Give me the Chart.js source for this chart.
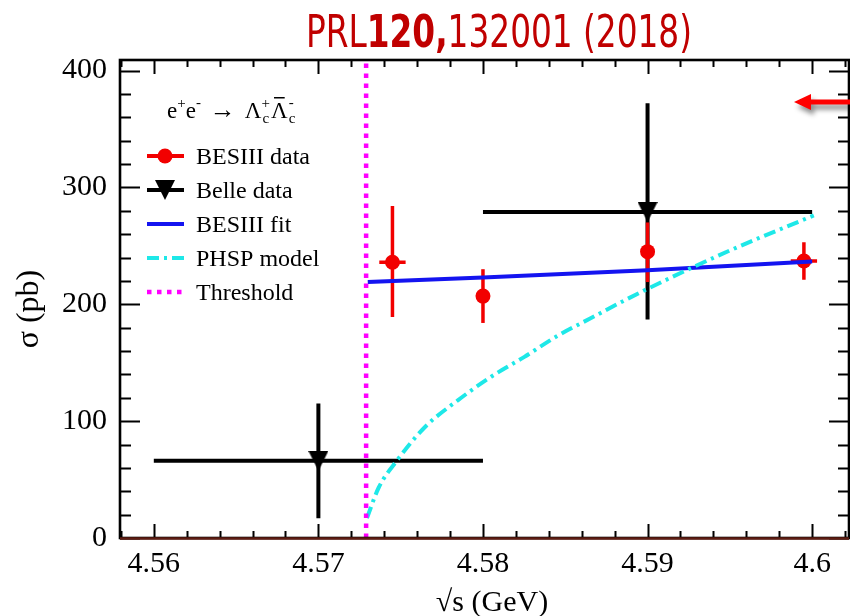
<!DOCTYPE html>
<html>
<head>
<meta charset="utf-8">
<script src="https://cdn.jsdelivr.net/npm/chart.js@4.4.1/dist/chart.umd.min.js"></script>
<style>
  html, body { margin: 0; padding: 0; background: #fff; overflow: hidden; }
  #wrap { width: 850px; height: 616px; overflow: hidden; position: relative; }
  canvas { display: block; }
</style>
</head>
<body>
<div id="wrap"><canvas id="c" width="860" height="616"></canvas></div>
<script>
// ---- BESIII measurements: sqrt(s) in GeV, cross section in pb ----
const besEnergy    = [4.5745, 4.5800, 4.5900, 4.5995];
const besSigma     = [236, 207, 245, 237];
const besErrUp     = [48, 23, 25, 16];
const besErrDown   = [47, 23, 26, 16];
const besEnergyErr = [0.0008, 0, 0, 0.0008];

// ---- Belle measurements (20 MeV bins) ----
const belleEnergy   = [4.57, 4.59];
const belleSigma    = [66, 279];
const belleErrUp    = [49, 93];
const belleErrDown  = [49, 92];
const belleBinHalf  = [0.01, 0.01];

// ---- BESIII fit curve ----
const fitEnergy = [4.5730, 4.5800, 4.5900, 4.6000];
const fitSigma  = [219, 223, 229, 236.5];

// ---- phase-space model curve ----
const phspEnergy = [4.57295, 4.57366, 4.57476, 4.57648, 4.57849, 4.58050, 4.58252,
                    4.58453, 4.58654, 4.58856, 4.58997, 4.59500, 4.60010];
const phspSigma  = [17, 43, 66, 95, 118, 138, 155, 173, 188, 203, 213, 246, 276];

// ---- production threshold (2 m_Lambda_c) ----
const thresholdEnergy = [4.5729, 4.5729];
const thresholdSigma  = [0, 409];

// ---- axes ----
const xTickValues = [4.56, 4.57, 4.58, 4.59, 4.60];
const xTickLabels = ['4.56', '4.57', '4.58', '4.59', '4.6'];
const yTickValues = [0, 100, 200, 300, 400];
const yTickLabels = ['0', '100', '200', '300', '400'];
const xRange = [4.557946, 4.60224];
const yRange = [0, 409];

const SERIF = '"Liberation Serif", "Times New Roman", serif';
const COLORS = {
  bes: '#f20000', belle: '#000000', fit: '#1414f0',
  phsp: 'rgb(30,232,232)', thr: '#ff00ff', title: '#c00000'
};

const pts = (xs, ys) => xs.map((x, i) => ({ x: x, y: ys[i] }));

// Downward triangle marker for Belle points, centred on its box
function makeDownTriangle(size, color) {
  const cv = document.createElement('canvas');
  cv.width = size; cv.height = size;
  const g = cv.getContext('2d');
  g.fillStyle = color;
  g.beginPath();
  g.moveTo(0, 0); g.lineTo(size, 0); g.lineTo(size / 2, size); g.closePath();
  g.fill();
  return cv;
}
const belleMarker = makeDownTriangle(20, COLORS.belle);

// Error bars drawn right before the owning dataset's markers
const errorBarPlugin = {
  id: 'errorBars',
  beforeDatasetDraw(chart, args) {
    const ds = chart.data.datasets[args.index];
    if (!ds.errorBars) return;
    const eb = ds.errorBars;
    const { ctx, scales: { x, y } } = chart;
    ctx.save();
    ctx.strokeStyle = eb.color;
    ctx.lineWidth = eb.width;
    ctx.lineCap = 'butt';
    ds.data.forEach((p, i) => {
      const px = x.getPixelForValue(p.x);
      const py = y.getPixelForValue(p.y);
      ctx.beginPath();
      ctx.moveTo(px, y.getPixelForValue(p.y + eb.up[i]));
      ctx.lineTo(px, y.getPixelForValue(p.y - eb.down[i]));
      if (eb.xHalf[i] > 0) {
        ctx.moveTo(x.getPixelForValue(p.x - eb.xHalf[i]), py);
        ctx.lineTo(x.getPixelForValue(p.x + eb.xHalf[i]), py);
      }
      ctx.stroke();
    });
    ctx.restore();
  }
};

// Frame with inward ticks on all four sides
const framePlugin = {
  id: 'frame',
  afterDatasetsDraw(chart) {
    const { ctx, chartArea: a, scales: { x, y } } = chart;
    ctx.save();
    ctx.strokeStyle = '#000';
    ctx.lineWidth = 2;
    ctx.beginPath();
    const i0 = Math.ceil(x.min / 0.002 - 1e-6), i1 = Math.floor(x.max / 0.002 + 1e-6);
    for (let i = i0; i <= i1; i++) {
      const px = Math.round(x.getPixelForValue(i * 0.002)) + 0.5;
      const len = (i % 5 === 0) ? 14 : 7;
      ctx.moveTo(px, a.bottom); ctx.lineTo(px, a.bottom - len);
      ctx.moveTo(px, a.top); ctx.lineTo(px, a.top + len);
    }
    for (let j = 0; j * 20 <= y.max; j++) {
      const py = Math.round(y.getPixelForValue(j * 20)) + 0.5;
      const len = (j % 5 === 0) ? 20 : 11;
      ctx.moveTo(a.left, py); ctx.lineTo(a.left + len, py);
      ctx.moveTo(a.right, py); ctx.lineTo(a.right - len, py);
    }
    ctx.stroke();
    ctx.lineWidth = 2.6;
    ctx.strokeRect(a.left, a.top, a.right - a.left, a.bottom - a.top);
    // baseline at zero
    ctx.strokeStyle = '#5e1c12';
    ctx.lineWidth = 2.4;
    ctx.beginPath();
    ctx.moveTo(a.left, a.bottom + 0.5); ctx.lineTo(a.right, a.bottom + 0.5);
    ctx.stroke();
    ctx.restore();
  }
};

function drawReaction(ctx, x, base) {
  const big = '23px ' + SERIF, small = '15px ' + SERIF;
  ctx.fillStyle = '#000';
  ctx.textAlign = 'left';
  ctx.textBaseline = 'alphabetic';
  const put = (t, f, dy) => { ctx.font = f; ctx.fillText(t, x, base + dy); return ctx.measureText(t).width; };
  x += put('e', big, 0);
  x += put('+', small, -10);
  x += put('e', big, 0);
  x += put('-', small, -11) + 9;
  ctx.font = '26px ' + SERIF;
  ctx.fillText('\u2192', x, base); x += ctx.measureText('\u2192').width + 9;
  x += put('\u039B', big, 0);
  ctx.font = small;
  ctx.fillText('+', x, base - 10);
  ctx.fillText('c', x + 1, base + 5);
  x += ctx.measureText('+').width + 1;
  const lw = (ctx.font = big, ctx.measureText('\u039B').width);
  ctx.fillText('\u039B', x, base);
  ctx.fillRect(x + 3, base - 21, lw - 6, 1.5);
  x += lw;
  ctx.font = small;
  ctx.fillText('-', x + 1, base - 11);
  ctx.fillText('c', x + 1, base + 5);
}

function legendSymbol(ctx, ds, cx, cy) {
  const x0 = cx - 18, x1 = cx + 19;
  ctx.save();
  ctx.strokeStyle = ds.legendColor;
  ctx.lineWidth = ds.legendWidth;
  ctx.setLineDash(ds.borderDash || []);
  ctx.beginPath();
  ctx.moveTo(x0, cy); ctx.lineTo(x1, cy);
  ctx.stroke();
  ctx.setLineDash([]);
  if (ds.legendMarker === 'circle') {
    ctx.fillStyle = ds.legendColor;
    ctx.beginPath(); ctx.arc(cx, cy, 7.5, 0, Math.PI * 2); ctx.fill();
  } else if (ds.legendMarker === 'tri') {
    ctx.drawImage(belleMarker, cx - 10, cy - 10);
  }
  ctx.restore();
}

const decorPlugin = {
  id: 'decor',
  afterDraw(chart) {
    const { ctx } = chart;
    ctx.save();

    // heading, set in a condensed face squeezed to the journal-reference width
    const parts = [
      ['PRL', 'normal'], ['120,', 'bold'], ['132001 (2018)', 'normal']
    ];
    const fam = '"Liberation Sans Narrow", "DejaVu Sans Condensed", "Liberation Sans", sans-serif';
    let w = 0;
    parts.forEach(p => { ctx.font = p[1] + ' 45px ' + fam; w += ctx.measureText(p[0]).width; });
    const targetW = 386;
    ctx.save();
    ctx.translate(499 - targetW / 2, 47);
    ctx.scale(targetW / w, 1);
    ctx.fillStyle = COLORS.title;
    ctx.textBaseline = 'alphabetic';
    ctx.textAlign = 'left';
    let tx = 0;
    parts.forEach(p => {
      ctx.font = p[1] + ' 45px ' + fam;
      ctx.fillText(p[0], tx, 0);
      tx += ctx.measureText(p[0]).width;
    });
    ctx.restore();

    // axis titles
    ctx.fillStyle = '#000';
    ctx.font = '30px ' + SERIF;
    ctx.textAlign = 'center';
    ctx.textBaseline = 'alphabetic';
    ctx.fillText('\u221As (GeV)', 492, 611);
    ctx.save();
    ctx.translate(38, 309);
    ctx.rotate(-Math.PI / 2);
    ctx.font = '32px ' + SERIF;
    ctx.fillText('\u03C3 (pb)', 0, 0);
    ctx.restore();

    // legend
    drawReaction(ctx, 167, 118);
    const order = ['BESIII data', 'Belle data', 'BESIII fit', 'PHSP model', 'Threshold'];
    order.forEach((name, k) => {
      const ds = chart.data.datasets.find(d => d.label === name);
      const cy = 156 + 34 * k;
      legendSymbol(ctx, ds, 165, cy);
      ctx.fillStyle = '#000';
      ctx.font = '24px ' + SERIF;
      ctx.textAlign = 'left';
      ctx.textBaseline = 'alphabetic';
      ctx.fillText(name, 196, cy + 8);
    });

    // pointer arrow
    ctx.save();
    ctx.shadowColor = 'rgba(0,0,0,0.45)';
    ctx.shadowBlur = 5;
    ctx.shadowOffsetX = 3;
    ctx.shadowOffsetY = 5;
    ctx.fillStyle = '#ff0000';
    ctx.beginPath();
    ctx.moveTo(794, 102);
    ctx.lineTo(811, 94);
    ctx.lineTo(811, 99.5);
    ctx.lineTo(870, 99.5);
    ctx.lineTo(870, 104.5);
    ctx.lineTo(811, 104.5);
    ctx.lineTo(811, 110);
    ctx.closePath();
    ctx.fill();
    ctx.restore();

    ctx.restore();
  }
};

const datasets = [
  {
    label: 'Threshold', data: pts(thresholdEnergy, thresholdSigma), showLine: true,
    borderColor: COLORS.thr, borderWidth: 4.5, borderDash: [4.5, 5.5], pointRadius: 0,
    legendColor: COLORS.thr, legendWidth: 4.5
  },
  {
    label: 'PHSP model', data: pts(phspEnergy, phspSigma), showLine: true,
    borderColor: COLORS.phsp, borderWidth: 4, borderDash: [12, 5, 3, 5], pointRadius: 0,
    cubicInterpolationMode: 'monotone',
    legendColor: COLORS.phsp, legendWidth: 4
  },
  {
    label: 'BESIII fit', data: pts(fitEnergy, fitSigma), showLine: true,
    borderColor: COLORS.fit, borderWidth: 4, pointRadius: 0,
    legendColor: COLORS.fit, legendWidth: 4
  },
  {
    label: 'BESIII data', data: pts(besEnergy, besSigma), showLine: false,
    pointStyle: 'circle', pointRadius: 7.5, pointBorderWidth: 0,
    backgroundColor: COLORS.bes, borderColor: COLORS.bes,
    errorBars: { up: besErrUp, down: besErrDown, xHalf: besEnergyErr, color: COLORS.bes, width: 3.5 },
    legendColor: COLORS.bes, legendWidth: 4, legendMarker: 'circle'
  },
  {
    label: 'Belle data', data: pts(belleEnergy, belleSigma), showLine: false,
    pointStyle: belleMarker, pointRadius: 10,
    errorBars: { up: belleErrUp, down: belleErrDown, xHalf: belleBinHalf, color: COLORS.belle, width: 4 },
    legendColor: COLORS.belle, legendWidth: 4, legendMarker: 'tri'
  }
];

new Chart(document.getElementById('c'), {
  type: 'scatter',
  data: { datasets: datasets },
  options: {
    responsive: false,
    animation: false,
    devicePixelRatio: 1,
    layout: { padding: { top: 60, left: 0, right: 7, bottom: 0 } },
    plugins: { legend: { display: false }, tooltip: { enabled: false }, title: { display: false } },
    scales: {
      x: {
        type: 'linear', min: xRange[0], max: xRange[1],
        grid: { display: false, drawTicks: false, tickLength: 0 }, border: { display: false },
        afterBuildTicks: s => { s.ticks = xTickValues.map(v => ({ value: v })); },
        afterFit: s => { s.height = 78; },
        ticks: {
          color: '#000', font: { family: SERIF, size: 30 }, padding: 8,
          maxRotation: 0, autoSkip: false,
          callback: (v, i) => xTickLabels[i]
        }
      },
      y: {
        type: 'linear', min: yRange[0], max: yRange[1],
        grid: { display: false, drawTicks: false, tickLength: 0 }, border: { display: false },
        afterBuildTicks: s => { s.ticks = yTickValues.map(v => ({ value: v })); },
        afterFit: s => { s.width = 120; },
        ticks: {
          color: '#000', font: { family: SERIF, size: 30 }, padding: 13,
          autoSkip: false,
          callback: (v, i) => yTickLabels[i]
        }
      }
    }
  },
  plugins: [errorBarPlugin, framePlugin, decorPlugin]
});
</script>
</body>
</html>
